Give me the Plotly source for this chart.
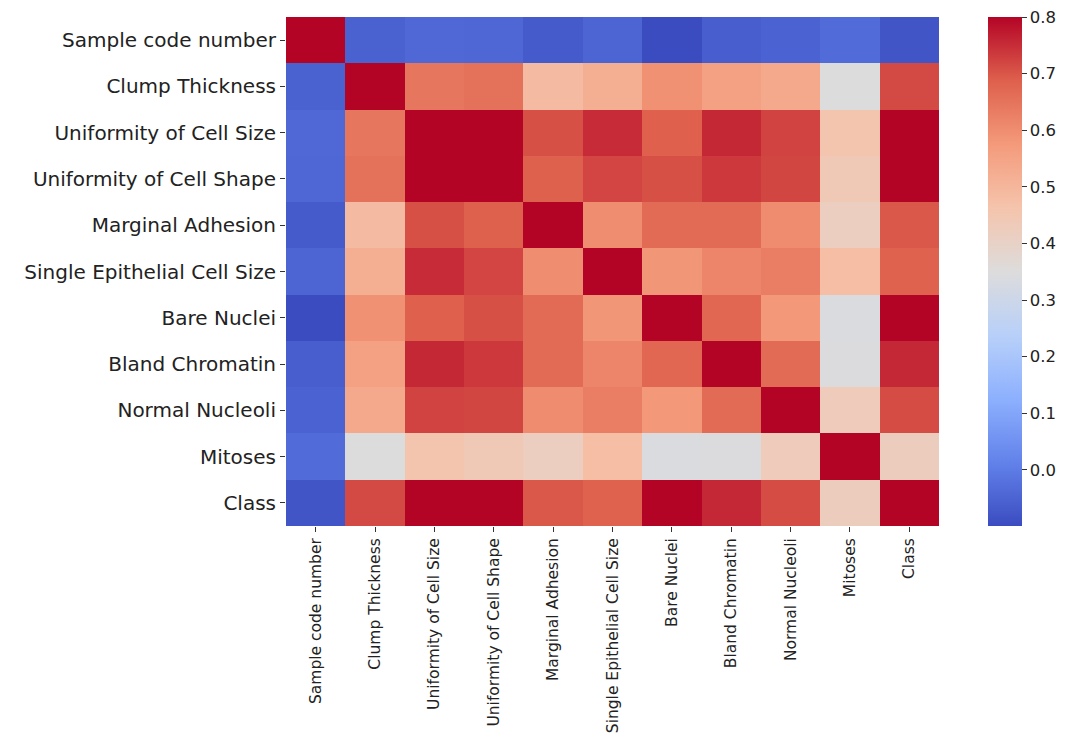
import plotly.graph_objects as go

labels = ["Sample code number", "Clump Thickness", "Uniformity of Cell Size",
          "Uniformity of Cell Shape", "Marginal Adhesion", "Single Epithelial Cell Size",
          "Bare Nuclei", "Bland Chromatin", "Normal Nucleoli", "Mitoses", "Class"]

# correlation matrix rows (symmetric)
row_sample_code = [1.000, -0.055, -0.041, -0.042, -0.069, -0.048, -0.099, -0.061, -0.052, -0.035, -0.080]
row_clump       = [-0.055, 1.000, 0.645, 0.655, 0.486, 0.522, 0.593, 0.558, 0.536, 0.350, 0.716]
row_ucsize      = [-0.041, 0.645, 1.000, 0.907, 0.707, 0.752, 0.687, 0.756, 0.723, 0.459, 0.818]
row_ucshape     = [-0.042, 0.655, 0.907, 1.000, 0.686, 0.720, 0.707, 0.736, 0.719, 0.439, 0.819]
row_marginal    = [-0.069, 0.486, 0.707, 0.686, 1.000, 0.600, 0.666, 0.667, 0.603, 0.418, 0.697]
row_single      = [-0.048, 0.522, 0.752, 0.720, 0.600, 1.000, 0.583, 0.616, 0.629, 0.479, 0.683]
row_bare        = [-0.099, 0.593, 0.687, 0.707, 0.666, 0.583, 1.000, 0.674, 0.578, 0.342, 0.818]
row_bland       = [-0.061, 0.558, 0.756, 0.736, 0.667, 0.616, 0.674, 1.000, 0.666, 0.344, 0.757]
row_normal      = [-0.052, 0.536, 0.723, 0.719, 0.603, 0.629, 0.578, 0.666, 1.000, 0.428, 0.712]
row_mitoses     = [-0.035, 0.350, 0.459, 0.439, 0.418, 0.479, 0.342, 0.344, 0.428, 1.000, 0.423]
row_class       = [-0.080, 0.716, 0.818, 0.819, 0.697, 0.683, 0.818, 0.757, 0.712, 0.423, 1.000]

z = [row_sample_code, row_clump, row_ucsize, row_ucshape, row_marginal, row_single,
     row_bare, row_bland, row_normal, row_mitoses, row_class]

cbar_ticks = [0.0, 0.1, 0.2, 0.3, 0.4, 0.5, 0.6, 0.7, 0.8]

coolwarm = [
    [0.0, "#3b4cc0"], [0.125, "#6282ea"], [0.25, "#8db0fe"], [0.375, "#b8d0f9"],
    [0.5, "#dddcdc"], [0.625, "#f5c4ac"], [0.75, "#f49a7b"], [0.875, "#de604d"],
    [1.0, "#b40426"],
]

# page has an 8px body margin, so the figure is placed 8px in from the top-left
OFF = 8
W, H = 1073 - OFF, 736 - OFF
L = 286 - OFF
T = 17 - OFF
R = W - (939 - OFF)
B = H - (526 - OFF)
pw = W - L - R

fig = go.Figure(go.Heatmap(
    z=z, x=labels, y=labels,
    colorscale=coolwarm, zmin=-0.099, zmax=0.8,
    colorbar=dict(
        x=(988 - 286) / pw, xanchor="left", y=0.5, yanchor="middle",
        xpad=0, ypad=0, ticklabeloverflow="allow",
        len=1.0, lenmode="fraction", thickness=34, outlinewidth=0,
        tickvals=cbar_ticks, tickformat=".1f", ticks="outside", ticklen=5,
        tickcolor="#333", tickfont=dict(family="DejaVu Sans", size=16.5, color="#222"),
    ),
    hoverongaps=False,
))

fig.update_layout(
    width=W, height=H,
    margin=dict(l=L, r=R, t=T, b=B, pad=0, autoexpand=False),
    paper_bgcolor="white", plot_bgcolor="white",
    font=dict(family="DejaVu Sans", color="#222"),
)
fig.update_xaxes(
    tickangle=-90, ticks="outside", ticklen=5, tickcolor="#333",
    tickfont=dict(family="DejaVu Sans", size=15.5, color="#222"),
    showgrid=False, zeroline=False, showline=False, automargin=False,
)
fig.update_yaxes(
    autorange="reversed", ticks="outside", ticklen=5, tickcolor="#333",
    tickfont=dict(family="DejaVu Sans", size=20, color="#222"),
    showgrid=False, zeroline=False, showline=False, automargin=False,
)

fig.write_html("out.html")
